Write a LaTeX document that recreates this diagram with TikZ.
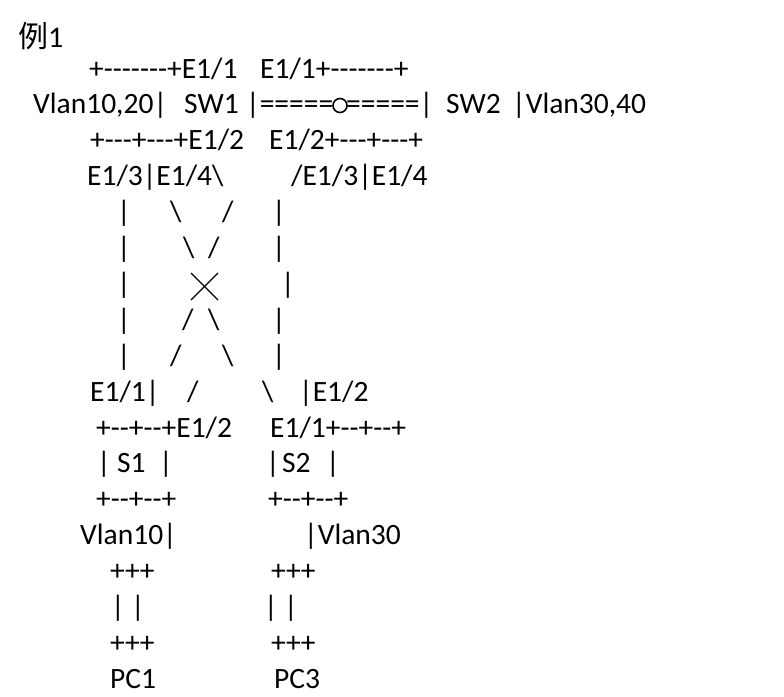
\documentclass[tikz,border=0pt]{standalone}
\usepackage{fontspec}
\newfontfamily\carlito{Carlito}[Ligatures=TeXOff]
\newfontfamily\cjk{Noto Sans CJK SC}
\tikzset{
  txt/.style={anchor=base west, inner sep=0pt, font=\carlito\fontsize{29.5}{36}\selectfont},
  ttl/.style={anchor=base west, inner sep=0pt, font=\fontsize{30}{36}\selectfont},
  cross/.style={line width=1.3pt}
}
\begin{document}
\begin{tikzpicture}[x=1pt,y=-1pt]
\useasboundingbox[fill=white] (0,0) rectangle (784,696);
\node[ttl] (title) at (18,47) {{\cjk 例}{\carlito 1}};
% SW1 / SW2
\node[txt] (swatop) at (89,78) {+-------+E1/1};
\node[txt] (swbtop) at (260,78) {E1/1+-------+};
\node[txt] (vlana) at (33,113.9) {Vlan10,20|};
\node[txt] (swa) at (184,113.9) {SW1};
\node[txt] (linka) at (246,113.9) {|=====};
\node[circle, draw, line width=1.6pt, minimum size=14pt, inner sep=0pt] (ring) at (340,105.5) {};
\node[txt] (linkb) at (346,113.9) {=====|};
\node[txt] (swb) at (446,113.9) {SW2};
\node[txt] (vlanb) at (512,113.9) {|Vlan30,40};
\node[txt] (swabot) at (90,149.8) {+---+---+E1/2};
\node[txt] (swbbot) at (269,149.8) {E1/2+---+---+};
\node[txt] (porta) at (87,185.7) {E1/3|E1/4\textbackslash};
\node[txt] (portb) at (291,185.7) {/E1/3|E1/4};
% links down to S1 / S2
\node[txt] (la5) at (117,221.6) {|};
\node[txt] (da5) at (170,221.6) {\textbackslash};
\node[txt] (db5) at (222,221.6) {/};
\node[txt] (lb5) at (272,221.6) {|};
\node[txt] (la6) at (117,257.5) {|};
\node[txt] (da6) at (183,257.5) {\textbackslash};
\node[txt] (db6) at (208,257.5) {/};
\node[txt] (lb6) at (272,257.5) {|};
\node[txt] (la7) at (117,293.4) {|};
\draw[cross] (191,273) -- (218,300);
\draw[cross] (191,300) -- (218,273);
\node[txt] (lb7) at (281,293.4) {|};
\node[txt] (la8) at (117,329.3) {|};
\node[txt] (db8) at (182,329.3) {/};
\node[txt] (da8) at (208,329.3) {\textbackslash};
\node[txt] (lb8) at (272,329.3) {|};
\node[txt] (la9) at (117,365.2) {|};
\node[txt] (db9) at (170,365.2) {/};
\node[txt] (da9) at (222,365.2) {\textbackslash};
\node[txt] (lb9) at (272,365.2) {|};
\node[txt] (sapt) at (90,401.1) {E1/1|};
\node[txt] (db10) at (187,401.1) {/};
\node[txt] (da10) at (262,401.1) {\textbackslash};
\node[txt] (sbpt) at (299,401.1) {|E1/2};
% S1 / S2
\node[txt] (satop) at (96,437) {+--+--+E1/2};
\node[txt] (sbtop) at (270,437) {E1/1+--+--+};
\node[txt] (sal) at (97,472.9) {|};
\node[txt] (sa) at (117,472.9) {S1};
\node[txt] (sar) at (159,472.9) {|};
\node[txt] (sbl) at (266,472.9) {|};
\node[txt] (sb) at (282,472.9) {S2};
\node[txt] (sbr) at (326,472.9) {|};
\node[txt] (sabot) at (96,508.8) {+--+--+};
\node[txt] (sbbot) at (268,508.8) {+--+--+};
\node[txt] (vlanc) at (80,544.7) {Vlan10|};
\node[txt] (vland) at (304,544.7) {|Vlan30};
% PC1 / PC3
\node[txt] (catop) at (110,580.6) {+++};
\node[txt] (cbtop) at (271,580.6) {+++};
\node[txt] (cal) at (111,616.5) {|};
\node[txt] (car) at (131,616.5) {|};
\node[txt] (cbl) at (264,616.5) {|};
\node[txt] (cbr) at (284,616.5) {|};
\node[txt] (cabot) at (110,652.4) {+++};
\node[txt] (cbbot) at (271,652.4) {+++};
\node[txt] (pca) at (110,688.3) {PC1};
\node[txt] (pcb) at (274,688.3) {PC3};
\end{tikzpicture}
\end{document}
